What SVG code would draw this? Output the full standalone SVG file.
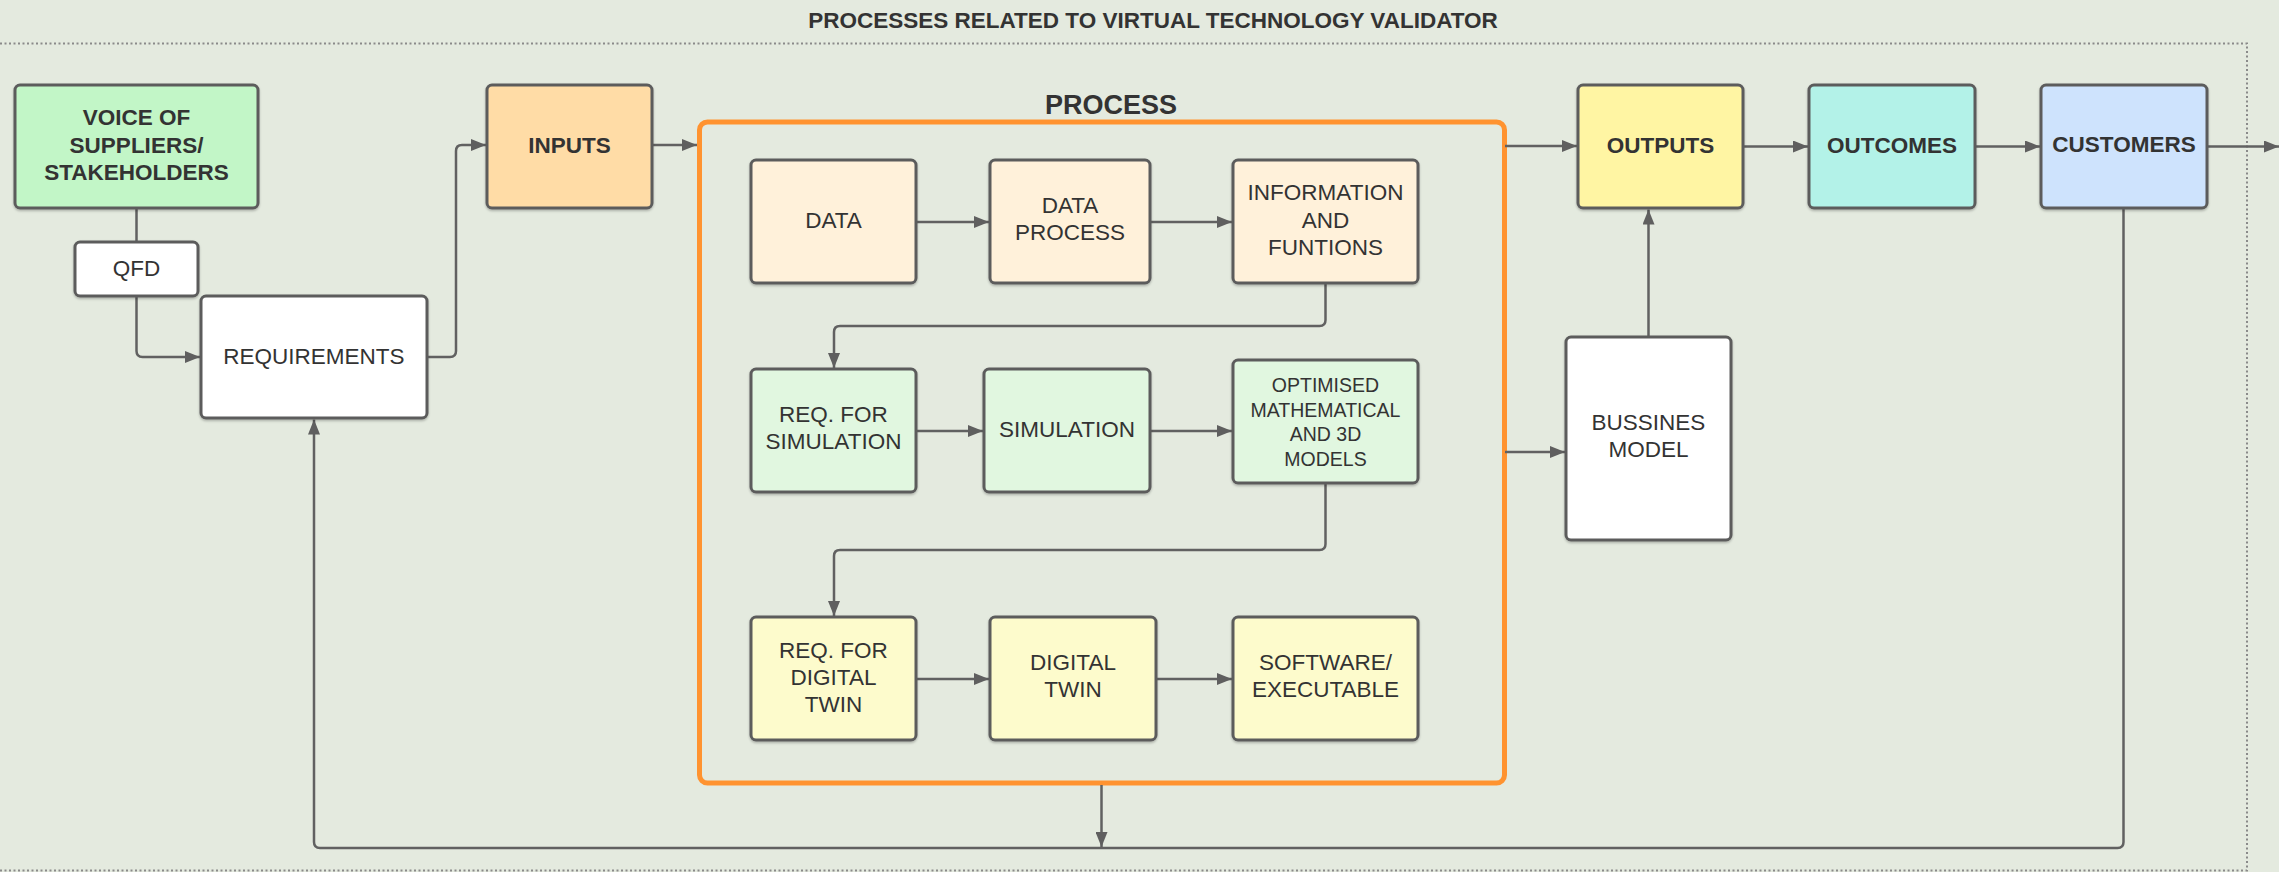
<svg xmlns="http://www.w3.org/2000/svg" width="2279" height="872" viewBox="0 0 2279 872">
  <defs>
    <marker id="arrow" markerUnits="userSpaceOnUse" markerWidth="16" markerHeight="12" refX="15" refY="6" orient="auto">
      <path d="M0,0 L15,6 L0,12 z" fill="#5f5f5f"/>
    </marker>
    <filter id="shadow" x="-5%" y="-5%" width="110%" height="115%">
      <feDropShadow dx="0" dy="1.5" stdDeviation="1" flood-color="#000" flood-opacity="0.25"/>
    </filter>
    <style>
      .box { stroke: #5c5c5c; stroke-width: 3; filter: url(#shadow); }
      .lbl { font-family: "Liberation Sans", Arial, sans-serif; font-size: 22.5px; fill: #333; text-anchor: middle; }
      .b { font-weight: bold; }
      .sm { font-size: 19.5px; }
      .conn { fill: none; stroke: #616161; stroke-width: 2.5; }
      .arr { marker-end: url(#arrow); }
      .frame { fill: none; stroke: #8a8a8a; stroke-width: 2; stroke-dasharray: 2 2.5; }
    </style>
  </defs>

  <!-- background -->
  <rect width="2279" height="872" fill="#e4eadf"/>

  <!-- outer dotted frame and title -->
  <path class="frame" d="M0 43.5 H2247 V870.5 H0"/>
  <text class="lbl b" x="1153" y="27.5" style="font-size:22.5px">PROCESSES RELATED TO VIRTUAL TECHNOLOGY VALIDATOR</text>

  <!-- process container -->
  <g id="process">
    <rect x="699.5" y="122" width="805" height="661" rx="8" fill="none" stroke="#ff9330" stroke-width="5"/>
    <text class="lbl b" x="1111" y="113.5" style="font-size:27px">PROCESS</text>
  </g>

  <!-- connectors -->
  <g id="connectors">
    <path class="conn" d="M136.5 208 V242"/>
    <path class="conn arr" d="M136.5 296 V351 Q136.5 357 142.5 357 H200"/>
    <path class="conn arr" d="M427.5 357 H450 Q456 357 456 351 V151 Q456 145 462 145 H486"/>
    <path class="conn arr" d="M652 145 H697"/>
    <path class="conn arr" d="M916 222 H989"/>
    <path class="conn arr" d="M1150 222 H1232"/>
    <path class="conn arr" d="M1325.5 283 V320 Q1325.5 326 1319.5 326 H840 Q834 326 834 332 V368"/>
    <path class="conn arr" d="M916 431 H983"/>
    <path class="conn arr" d="M1150 431 H1232"/>
    <path class="conn arr" d="M1325.5 483 V544 Q1325.5 550 1319.5 550 H840 Q834 550 834 556 V616"/>
    <path class="conn arr" d="M916 679 H989"/>
    <path class="conn arr" d="M1156 679 H1232"/>
    <path class="conn arr" d="M1505 146 H1577"/>
    <path class="conn arr" d="M1505 452 H1565"/>
    <path class="conn arr" d="M1648.5 337 V209.5"/>
    <path class="conn arr" d="M1743 146.5 H1808"/>
    <path class="conn arr" d="M1975 146.5 H2040"/>
    <path class="conn arr" d="M2207 146.5 H2279"/>
    <path class="conn arr" d="M2123.5 208 V842 Q2123.5 848 2117.5 848 H320 Q314 848 314 842 V419.5"/>
    <path class="conn arr" d="M1101.5 785 V847"/>
  </g>

  <g id="voice">
    <rect class="box" x="15" y="85" width="243" height="123" rx="5" fill="#c2f6c7"/>
    <text class="lbl b" x="136.5" y="125">VOICE OF</text>
    <text class="lbl b" x="136.5" y="152.5">SUPPLIERS/</text>
    <text class="lbl b" x="136.5" y="180">STAKEHOLDERS</text>
  </g>
  <g id="qfd">
    <rect class="box" x="75" y="242" width="123" height="54" rx="5" fill="#ffffff"/>
    <text class="lbl" x="136.5" y="276">QFD</text>
  </g>
  <g id="requirements">
    <rect class="box" x="201" y="296" width="226" height="122" rx="5" fill="#ffffff"/>
    <text class="lbl" x="314" y="364">REQUIREMENTS</text>
  </g>
  <g id="inputs">
    <rect class="box" x="487" y="85" width="165" height="123" rx="5" fill="#ffdca6"/>
    <text class="lbl b" x="569.5" y="153">INPUTS</text>
  </g>

  <g id="data">
    <rect class="box" x="751" y="160" width="165" height="123" rx="5" fill="#fff1da"/>
    <text class="lbl" x="833.5" y="228">DATA</text>
  </g>
  <g id="data-process">
    <rect class="box" x="990" y="160" width="160" height="123" rx="5" fill="#fff1da"/>
    <text class="lbl" x="1070" y="213">DATA</text>
    <text class="lbl" x="1070" y="240">PROCESS</text>
  </g>
  <g id="information">
    <rect class="box" x="1233" y="160" width="185" height="123" rx="5" fill="#fff1da"/>
    <text class="lbl" x="1325.5" y="200">INFORMATION</text>
    <text class="lbl" x="1325.5" y="227.5">AND</text>
    <text class="lbl" x="1325.5" y="255">FUNTIONS</text>
  </g>

  <g id="req-simulation">
    <rect class="box" x="751" y="369" width="165" height="123" rx="5" fill="#e1f7e0"/>
    <text class="lbl" x="833.5" y="422">REQ. FOR</text>
    <text class="lbl" x="833.5" y="449">SIMULATION</text>
  </g>
  <g id="simulation">
    <rect class="box" x="984" y="369" width="166" height="123" rx="5" fill="#e1f7e0"/>
    <text class="lbl" x="1067" y="437">SIMULATION</text>
  </g>
  <g id="optimised">
    <rect class="box" x="1233" y="360" width="185" height="123" rx="5" fill="#e1f7e0"/>
    <text class="lbl sm" x="1325.5" y="392">OPTIMISED</text>
    <text class="lbl sm" x="1325.5" y="416.5">MATHEMATICAL</text>
    <text class="lbl sm" x="1325.5" y="441">AND 3D</text>
    <text class="lbl sm" x="1325.5" y="465.5">MODELS</text>
  </g>

  <g id="req-digital-twin">
    <rect class="box" x="751" y="617" width="165" height="123" rx="5" fill="#fdfbcc"/>
    <text class="lbl" x="833.5" y="658">REQ. FOR</text>
    <text class="lbl" x="833.5" y="685">DIGITAL</text>
    <text class="lbl" x="833.5" y="712">TWIN</text>
  </g>
  <g id="digital-twin">
    <rect class="box" x="990" y="617" width="166" height="123" rx="5" fill="#fdfbcc"/>
    <text class="lbl" x="1073" y="670">DIGITAL</text>
    <text class="lbl" x="1073" y="697">TWIN</text>
  </g>
  <g id="software">
    <rect class="box" x="1233" y="617" width="185" height="123" rx="5" fill="#fdfbcc"/>
    <text class="lbl" x="1325.5" y="670">SOFTWARE/</text>
    <text class="lbl" x="1325.5" y="697">EXECUTABLE</text>
  </g>

  <g id="outputs">
    <rect class="box" x="1578" y="85" width="165" height="123" rx="5" fill="#fff5a3"/>
    <text class="lbl b" x="1660.5" y="153">OUTPUTS</text>
  </g>
  <g id="outcomes">
    <rect class="box" x="1809" y="85" width="166" height="123" rx="5" fill="#b3f2e8"/>
    <text class="lbl b" x="1892" y="153">OUTCOMES</text>
  </g>
  <g id="customers">
    <rect class="box" x="2041" y="85" width="166" height="123" rx="5" fill="#cee3fd"/>
    <text class="lbl b" x="2124" y="152">CUSTOMERS</text>
  </g>
  <g id="business-model">
    <rect class="box" x="1566" y="337" width="165" height="203" rx="5" fill="#ffffff"/>
    <text class="lbl" x="1648.5" y="430">BUSSINES</text>
    <text class="lbl" x="1648.5" y="456.5">MODEL</text>
  </g>
</svg>
